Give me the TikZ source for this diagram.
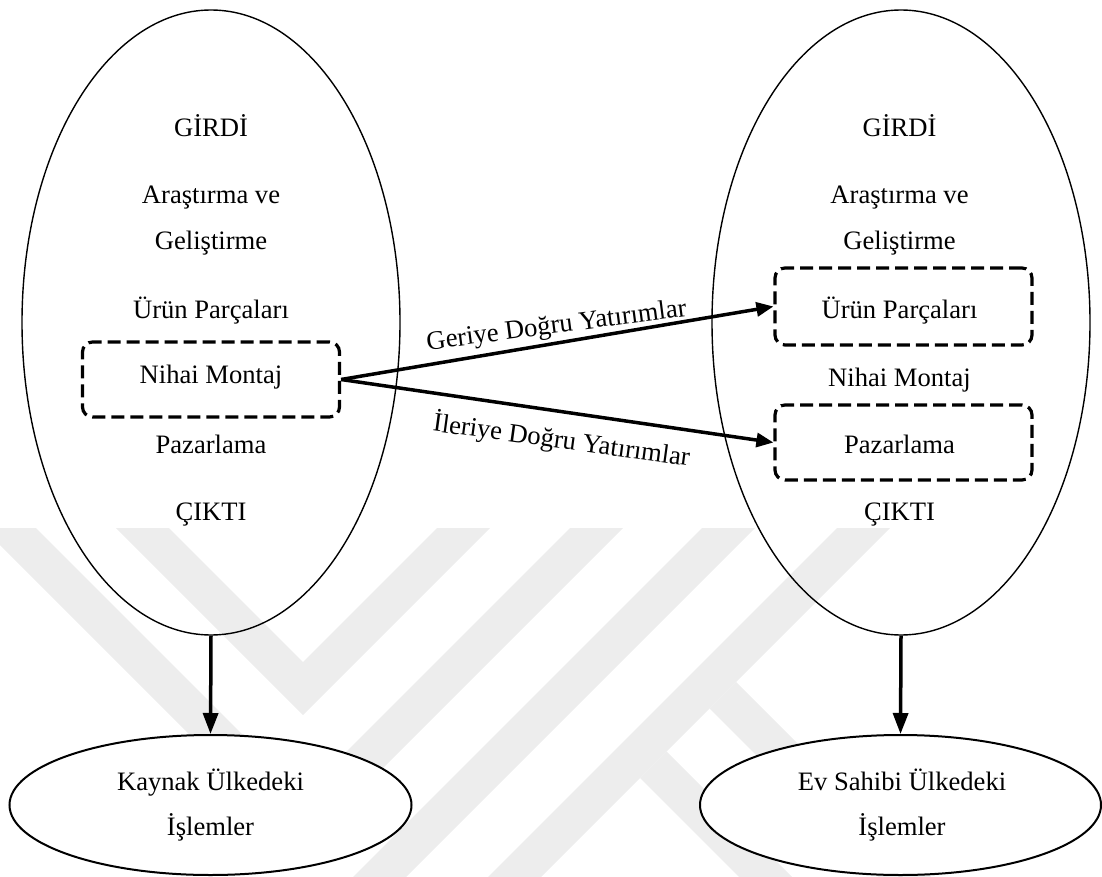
\documentclass[tikz,border=0pt]{standalone}
\usepackage{fontspec}
\setmainfont{Liberation Serif}
\usetikzlibrary{arrows.meta,shapes.geometric}

\begin{document}
\begin{tikzpicture}[x=1pt,y=-1pt,
  every node/.style={font=\fontsize{26.6}{32}\selectfont},
  wmark/.style={fill=black!7, draw=none},
  bigoval/.style={ellipse, draw, line width=1.4pt, minimum width=378pt, minimum height=625pt, inner sep=0pt},
  smalloval/.style={ellipse, draw, fill=white, line width=2pt, minimum width=402pt, minimum height=140pt, inner sep=0pt},
  dashbox/.style={draw, line width=3.2pt, dash pattern=on 13pt off 6pt, rounded corners=10pt, minimum width=257pt, inner sep=0pt},
  txt/.style={anchor=base, inner sep=0pt},
  arr/.style={line width=3.5pt, -{Triangle[length=17pt,width=14pt]}},
  vdrop/.style={line width=3.5pt, -{Triangle[length=21pt,width=15pt]}},
]
\useasboundingbox (0,0) rectangle (1102,877);

% faint background emblem made of diagonal bands
\begin{scope}
  \clip (0,0) rectangle (1102,877);
  \fill[wmark] (116,528) -- (169,528) -- (303,662) -- (437,528) -- (490,528) -- (303,715) -- cycle;
  \fill[wmark] (-17,528) -- (36,528) -- (303,795) -- (570,528) -- (623,528) -- (303,848) -- cycle;
  \fill[wmark] (702,528) -- (755,528) -- (406,877) -- (353,877) -- cycle;
  \fill[wmark] (837,528) -- (890,528) -- (541,877) -- (488,877) -- cycle;
  \fill[wmark] (709.5,708.5) -- (736,682) -- (931,877) -- (878.5,877) -- cycle;
  \fill[wmark] (640,778) -- (666.5,751.5) -- (792,877) -- (739,877) -- cycle;
\end{scope}

% value chains of the two countries
\node[bigoval] (bigL) at (211,322.5) {};
\node[bigoval] (bigR) at (901,322.5) {};

% source country
\node[txt] (inL)    at (211,136.7) {GİRDİ};
\node[txt] (rdL1)   at (211,204)   {Araştırma ve};
\node[txt] (rdL2)   at (211,250)   {Geliştirme};
\node[txt] (partsL) at (211,318.3) {Ürün Parçaları};
\node[dashbox, minimum height=75pt] (boxL) at (211,379.5) {};
\node[txt] (asmL)   at (211,383.3) {Nihai Montaj};
\node[txt] (mktL)   at (211,453.3) {Pazarlama};
\node[txt] (outL)   at (211,520)   {ÇIKTI};

% host country
\node[txt] (inR)    at (899.5,136.7) {GİRDİ};
\node[txt] (rdR1)   at (899.5,204)   {Araştırma ve};
\node[txt] (rdR2)   at (899.5,250)   {Geliştirme};
\node[dashbox, minimum height=77pt] (boxPr) at (903.5,306.5) {};
\node[txt] (partsR) at (899.5,318.3) {Ürün Parçaları};
\node[txt] (asmR)   at (899.5,386.7) {Nihai Montaj};
\node[dashbox, minimum height=75pt] (boxMr) at (903.5,442.5) {};
\node[txt] (mktR)   at (899.5,453.3) {Pazarlama};
\node[txt] (outR)   at (899.5,520)   {ÇIKTI};

% operations
\node[smalloval] (smallL) at (210.5,805) {};
\node[txt] (opL1) at (210.5,790) {Kaynak Ülkedeki};
\node[txt] (opL2) at (210.5,835) {İşlemler};
\node[smalloval, minimum width=401pt] (smallR) at (900.5,805) {};
\node[txt] (opR1) at (902,790) {Ev Sahibi Ülkedeki};
\node[txt] (opR2) at (902,835) {İşlemler};

% investment arrows
\draw[arr] (boxL.east) -- (boxPr.west);
\draw[arr] (boxL.east) -- (boxMr.west);
\node[txt, rotate=7.5]  (backlbl) at (557.5,333)   {Geriye Doğru Yatırımlar};
\node[txt, rotate=-7.8] (fwdlbl)  at (560.5,448.5) {İleriye Doğru Yatırımlar};

\draw[vdrop] (bigL.south) -- (smallL.north);
\draw[vdrop] (bigR.south) -- (smallR.north);
\end{tikzpicture}
\end{document}
